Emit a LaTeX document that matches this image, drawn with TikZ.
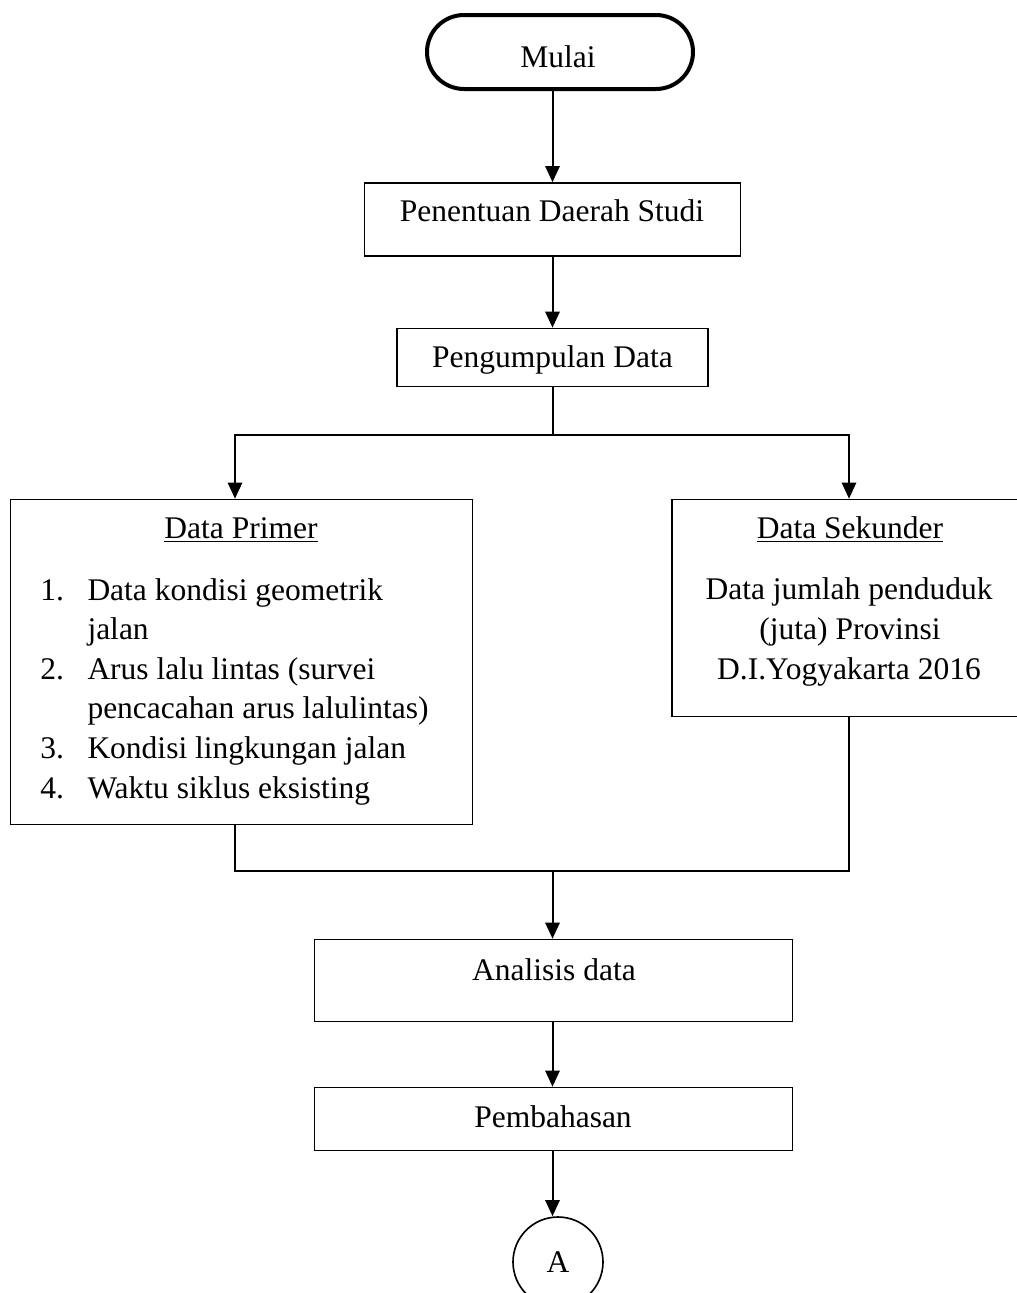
\documentclass[tikz,border=0pt]{standalone}
\usepackage{fontspec}
\setmainfont{Liberation Serif}
\usetikzlibrary{arrows.meta}
\begin{document}
\begin{tikzpicture}[x=0.4pt,y=-0.4pt,
    font=\fontsize{12.6}{15.84}\selectfont,
    kotak/.style 2 args={draw,line width=0.65pt,inner sep=0pt,minimum width=#1*0.4pt,minimum height=#2*0.4pt},
    tulis/.style={anchor=base,inner sep=0pt},
    garis/.style={line width=0.8pt},
    panah/.style={garis,-{Triangle[width=5.7pt,length=6.4pt]}}]
    \useasboundingbox (0,0) rectangle (1017,1293);
    % kotak
    \node[kotak={266}{74},rounded corners=14.8pt,line width=1.6pt] (mulai) at (560,52) {};
    \node[kotak={376}{73}] (studi) at (552.5,219.5) {};
    \node[kotak={311}{58}] (kumpul) at (552.5,357.5) {};
    \node[kotak={462}{325}] (primer) at (241.5,662) {};
    \node[kotak={357}{217}] (sekunder) at (850.5,608) {};
    \node[kotak={478}{82}] (analisis) at (553.5,980.5) {};
    \node[kotak={478}{63}] (bahas) at (553.5,1119) {};
    \node[draw,circle,line width=0.65pt,inner sep=0pt,minimum size=36pt] (A) at (558,1262) {A};
    % teks
    \path
    (558,67) node[tulis] (tmulai) {Mulai}
    (552,221) node[tulis] (tstudi) {Penentuan Daerah Studi}
    (552.5,367) node[tulis] (tkumpul) {Pengumpulan Data}
    (241,538) node[tulis] (tprimer) {\underline{Data Primer}}
    (850,538) node[tulis] (tsekunder) {\underline{Data Sekunder}}
    (849,599) node[tulis] (sek1) {Data jumlah penduduk}
    (850,639) node[tulis] (sek2) {(juta) Provinsi}
    (849,679) node[tulis] (sek3) {D.I.Yogyakarta 2016}
    (554,980) node[tulis] (tanalisis) {Analisis data}
    (553,1127) node[tulis] (tbahas) {Pembahasan};
    \foreach \n/\isi [count=\i from 0] in {1./Data kondisi geometrik,/jalan,2./Arus lalu lintas (survei,/pencacahan arus lalulintas),3./Kondisi lingkungan jalan,4./Waktu siklus eksisting}
    \path (40,600+39.6*\i) node[tulis,anchor=base west] (no\i) {\n}
    (87,600+39.6*\i) node[tulis,anchor=base west] (isi\i) {\isi};
    % garis
    \coordinate (pisah) at (552.5,435);
    \coordinate (kiri) at (235,435);
    \coordinate (kanan) at (849,435);
    \coordinate (gabung) at (552.5,871);
    \draw[panah] (studi.north |- mulai.south) -- (studi.north);
    \foreach \a/\b in {studi/kumpul,analisis/bahas,bahas/A}
    \draw[panah] (\a.south -| studi.south) -- (studi.south |- \b.north);
    \draw[garis] (kumpul.south) -- (pisah);
    \draw[panah] (pisah) -- (kiri) -- (kiri |- primer.north);
    \draw[panah] (pisah) -- (kanan) -- (kanan |- sekunder.north);
    \draw[garis] (kiri |- primer.south) -- (kiri |- gabung) -- (kanan |- gabung) -- (kanan |- sekunder.south);
    \draw[panah] (gabung) -- (gabung |- analisis.north);
\end{tikzpicture}
\end{document}
